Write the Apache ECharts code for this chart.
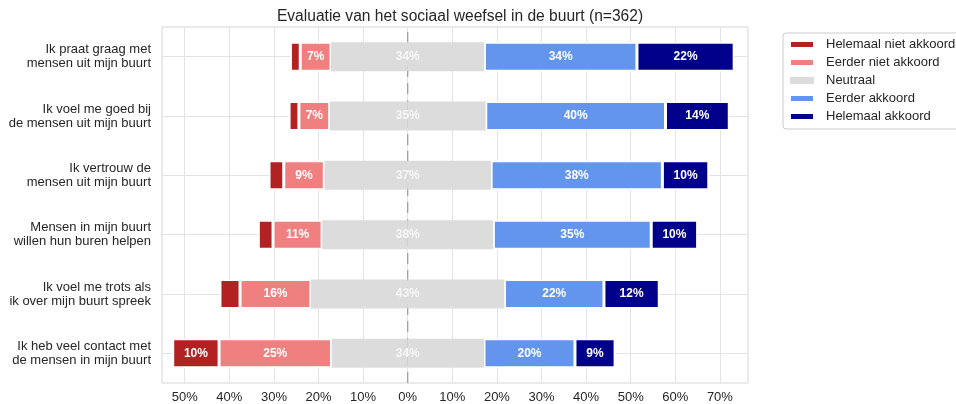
<!DOCTYPE html>
<html>
<head>
<meta charset="utf-8">
<script src="https://cdn.jsdelivr.net/npm/echarts@6/dist/echarts.min.js"></script>
<style>
  html, body { margin: 0; padding: 0; background: #fff; }
  #chart { width: 956px; height: 404px; }
</style>
</head>
<body>
<div id="chart"></div>
<script>
// stellingen, van boven naar onder
const statements = [
  'Ik praat graag met\nmensen uit mijn buurt',
  'Ik voel me goed bij\nde mensen uit mijn buurt',
  'Ik vertrouw de\nmensen uit mijn buurt',
  'Mensen in mijn buurt\nwillen hun buren helpen',
  'Ik voel me trots als\nik over mijn buurt spreek',
  'Ik heb veel contact met\nde mensen in mijn buurt'
]

// percentages per antwoordcategorie (zelfde volgorde als statements)
const helemaalNiet = [2.2, 2.2, 3.3, 3.3, 4.5, 10.4]
const eerderNiet = [6.9, 6.9, 9.1, 11.0, 15.9, 25.2]
const neutraal = [34.4, 35.0, 37.4, 38.4, 43.4, 34.2]
const eerderWel = [34.2, 40.3, 38.4, 35.4, 22.3, 20.4]
const helemaalWel = [21.8, 14.3, 10.4, 10.4, 12.4, 9.0]

const xTicks = [-50, -40, -30, -20, -10, 0, 10, 20, 30, 40, 50, 60, 70]

const colors = {
  helemaalNiet: '#b22222',
  eerderNiet: '#f08080',
  neutraal: '#dcdcdc',
  eerderWel: '#6495ed',
  helemaalWel: '#00008b'
}

const chart = echarts.init(document.getElementById('chart'))

const fmt = p => {
  const v = Math.abs(p.value)
  return v >= 5 ? Math.round(v) + '%' : ''
}

const barLabel = {
  show: true,
  position: 'inside',
  color: '#fff',
  fontWeight: 'bold',
  fontSize: 12,
  fontFamily: 'Liberation Sans, Arial, sans-serif',
  formatter: fmt
}

const base = {
  type: 'bar',
  stack: 'likert',
  barWidth: '49%',
  z: 3,
  itemStyle: { borderColor: '#fff', borderWidth: 1.5 }
}

const option = {
  animation: false,
  textStyle: { fontFamily: 'Liberation Sans, Arial, sans-serif' },
  title: {
    text: 'Evaluatie van het sociaal weefsel in de buurt (n=362)',
    left: 455,
    textAlign: 'center',
    top: 4,
    textStyle: { fontSize: 15.6, fontWeight: 'normal', color: '#262626' }
  },
  legend: {
    orient: 'vertical',
    left: 783,
    top: 33,
    padding: [5, 6, 6, 6],
    itemWidth: 24,
    itemHeight: 7,
    itemGap: 5,
    icon: 'rect',
    borderColor: '#cccccc',
    borderWidth: 1,
    borderRadius: 3,
    data: ['Helemaal niet akkoord', 'Eerder niet akkoord', 'Neutraal', 'Eerder akkoord', 'Helemaal akkoord'],
    textStyle: { fontSize: 13, lineHeight: 13, color: '#262626', padding: [0, 0, 0, 7] }
  },
  grid: {
    left: 162,
    right: 208,
    top: 27,
    bottom: 21,
    show: true,
    borderColor: '#d6d6d6',
    borderWidth: 1
  },
  xAxis: {
    type: 'value',
    min: -55.1,
    max: 76.3,
    axisLine: { show: false },
    axisTick: { show: false, customValues: xTicks },
    axisLabel: {
      customValues: xTicks,
      formatter: v => Math.abs(Math.round(v)) + '%',
      color: '#262626',
      fontSize: 13,
      margin: 8
    },
    splitLine: { lineStyle: { color: '#e3e3e3', width: 1 } }
  },
  yAxis: [
    {
      type: 'category',
      inverse: true,
      data: statements,
      axisLine: { show: false },
      axisTick: { show: true, alignWithLabel: true, length: 0, lineStyle: { color: '#e3e3e3' } },
      axisLabel: { color: '#262626', fontSize: 13, lineHeight: 14, margin: 11 },
      splitLine: { show: true, alignWithLabel: true, lineStyle: { color: '#e3e3e3' } }
    },
    // hulpas voor de gestippelde nullijn
    { type: 'value', min: 0, max: 1, show: false }
  ],
  series: [
    {
      type: 'line',
      yAxisIndex: 1,
      z: 1,
      silent: true,
      symbol: 'none',
      lineStyle: { color: '#999999', type: [11, 6], width: 1.2 },
      data: [[0, 0], [0, 1]]
    },
    {
      ...base,
      name: 'Neutraal',
      data: neutraal.map(v => -v / 2),
      itemStyle: { color: colors.neutraal, borderWidth: 0 },
      label: { show: false }
    },
    {
      ...base,
      name: 'Neutraal',
      data: neutraal.map(v => v / 2),
      itemStyle: { color: colors.neutraal, borderWidth: 0 },
      label: {
        ...barLabel,
        color: '#f7f7f7',
        position: 'insideLeft',
        align: 'center',
        distance: 0,
        formatter: p => Math.round(p.value * 2) + '%'
      }
    },
    {
      ...base,
      name: 'Eerder niet akkoord',
      data: eerderNiet.map(v => -v),
      itemStyle: { ...base.itemStyle, color: colors.eerderNiet },
      label: barLabel
    },
    {
      ...base,
      name: 'Helemaal niet akkoord',
      data: helemaalNiet.map(v => -v),
      itemStyle: { ...base.itemStyle, color: colors.helemaalNiet },
      label: barLabel
    },
    {
      ...base,
      name: 'Eerder akkoord',
      data: eerderWel,
      itemStyle: { ...base.itemStyle, color: colors.eerderWel },
      label: barLabel
    },
    {
      ...base,
      name: 'Helemaal akkoord',
      data: helemaalWel,
      itemStyle: { ...base.itemStyle, color: colors.helemaalWel },
      label: barLabel
    }
  ]
}

chart.setOption(option)
</script>
</body>
</html>
